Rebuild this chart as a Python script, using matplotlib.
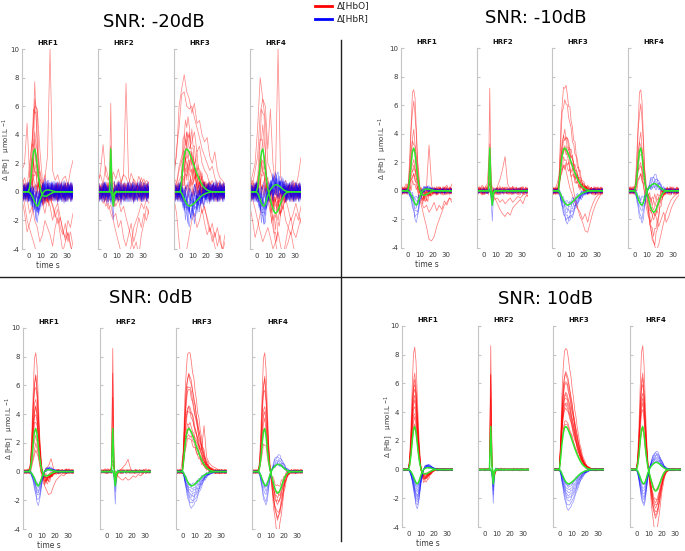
"""
Simulated HRF recovery at four SNR levels -- HbO / HbR traces per HRF type
"""

import numpy as np
import matplotlib
matplotlib.use("Agg")
import matplotlib.pyplot as plt
from matplotlib.lines import Line2D

plt.rcParams["axes.unicode_minus"] = False

W, H = 685, 551

# time axes (s)
T = np.arange(-5, 36)        # 1 s grid
T2 = np.arange(-5, 36, 2)    # 2 s grid for the drifting traces

HRF_NAMES = ["HRF1", "HRF2", "HRF3", "HRF4"]
SNR_TITLES = ["SNR: -20dB", "SNR: -10dB", "SNR: 0dB", "SNR: 10dB"]

HBO_HRF1 = [0, 0, 0, 0, 0, 0,
            0.3, 1.0, 2.0, 2.8, 3.0, 2.6, 1.8, 1.0, 0.4, 0.0,
            -0.2, -0.3, -0.3, -0.3, -0.25, -0.2, -0.15, -0.1, -0.06, -0.03,
            0, 0, 0, 0, 0, 0, 0, 0, 0, 0, 0, 0, 0, 0, 0]
HBR_HRF1 = [0, 0, 0, 0, 0, 0,
            -0.05, -0.15, -0.3, -0.5, -0.72, -0.92, -1.0, -0.88, -0.62, -0.35,
            -0.15, 0.0, 0.08, 0.12, 0.13, 0.13, 0.11, 0.09, 0.06, 0.04,
            0.02, 0, 0, 0, 0, 0, 0, 0, 0, 0, 0, 0, 0, 0, 0]
HBO_HRF2 = [0, 0, 0, 0, 0, 0, 0, 0, 0, 0,
            3.0, 0.2, -0.3, -0.15, -0.05,
            0, 0, 0, 0, 0, 0, 0, 0, 0, 0, 0, 0, 0, 0, 0, 0, 0, 0, 0, 0, 0, 0, 0, 0, 0, 0]
HBR_HRF2 = [0, 0, 0, 0, 0, 0, 0, 0, 0, 0, 0,
            -0.2, -1.0, -0.1, 0.05,
            0, 0, 0, 0, 0, 0, 0, 0, 0, 0, 0, 0, 0, 0, 0, 0, 0, 0, 0, 0, 0, 0, 0, 0, 0, 0]
HBO_HRF3 = [0, 0, 0, 0, 0, 0,
            0.8, 1.8, 2.5, 2.9, 3.0, 2.92, 2.75, 2.52, 2.28, 2.02,
            1.76, 1.5, 1.26, 1.04, 0.84, 0.66, 0.5, 0.37, 0.27, 0.19,
            0.13, 0.08, 0.05, 0.03, 0.01,
            0, 0, 0, 0, 0, 0, 0, 0, 0, 0]
HBR_HRF3 = [0, 0, 0, 0, 0, 0,
            -0.1, -0.3, -0.5, -0.7, -0.85, -0.95, -1.0, -0.98, -0.93, -0.86,
            -0.78, -0.69, -0.6, -0.5, -0.41, -0.33, -0.26, -0.2, -0.15, -0.11,
            -0.08, -0.05, -0.03, -0.02, -0.01,
            0, 0, 0, 0, 0, 0, 0, 0, 0, 0]
HBO_HRF4 = [0, 0, 0, 0, 0, 0,
            0.3, 1.0, 2.0, 2.8, 3.0, 2.5, 1.6, 0.8, 0.2, -0.2,
            -0.55, -0.9, -1.2, -1.4, -1.5, -1.45, -1.3, -1.05, -0.8, -0.55,
            -0.35, -0.2, -0.1, -0.05, -0.02,
            0, 0, 0, 0, 0, 0, 0, 0, 0, 0]
HBR_HRF4 = [0, 0, 0, 0, 0, 0,
            -0.1, -0.3, -0.55, -0.8, -0.95, -1.0, -0.85, -0.55, -0.25, 0.0,
            0.15, 0.28, 0.38, 0.45, 0.5, 0.5, 0.47, 0.4, 0.32, 0.24,
            0.17, 0.1, 0.06, 0.03, 0.01,
            0, 0, 0, 0, 0, 0, 0, 0, 0, 0]

HBO_TRUE = [np.array(v) for v in (HBO_HRF1, HBO_HRF2, HBO_HRF3, HBO_HRF4)]
HBR_TRUE = [np.array(v) for v in (HBR_HRF1, HBR_HRF2, HBR_HRF3, HBR_HRF4)]

# estimated peak HbO (red) and trough HbR (blue, magnitude) of each trace, per HRF
RED_PEAKS_M20 = [[6.0, 4.0, 3.0, 2.0, 1.0, 0.5, 0.0, 1.5, -0.5, 2.5],
                 [6.7, 3.0, 2.0, 1.0, 0.5, 0.0, -0.5, 1.5],
                 [5.0, 4.0, 3.0, 2.0, 1.0, 0.5, 0.0, 2.5, 1.5],
                 [6.0, 4.5, 3.0, 2.0, 1.0, 0.5, 0.0, 1.5]]
BLUE_DIPS_M20 = [[1.7, 1.4, 1.2, 1.0, 0.8, 0.6, 0.4, 0.2, 1.0, 0.5],
                 [1.5, 1.0, 0.8, 0.5, 0.3, 0.0, 0.6, 0.2],
                 [2.0, 1.6, 1.3, 1.0, 0.8, 0.5, 0.2, 0.0, 1.1],
                 [2.0, 1.6, 1.2, 1.0, 0.8, 0.5, 0.2, 0.0, 1.4]]
RED_PEAKS_M10 = [[7.3, 6.2, 4.0, 3.5, 2.8, 1.6, 1.0, 0.5],
                 [7.4, 3.2, 2.0, 1.0, 0.5, 0.0],
                 [7.4, 6.3, 4.0, 3.8, 3.5, 3.2, 2.8, 2.2, 1.8],
                 [7.3, 6.0, 3.8, 3.4, 2.5, 1.8, 1.0]]
BLUE_DIPS_M10 = [[2.1, 1.8, 1.5, 1.2, 0.9, 0.7, 0.5],
                 [2.0, 1.2, 0.8, 0.5, 0.3],
                 [2.2, 2.0, 1.8, 1.5, 1.2, 1.0, 0.8],
                 [2.2, 1.8, 1.4, 1.0, 0.8, 0.5]]
RED_PEAKS_P0 = [[8.4, 6.7, 6.5, 6.0, 5.0, 4.6, 4.4, 4.0, 3.6, 2.4],
                [8.7, 6.8, 5.0, 3.0, 2.8],
                [8.4, 6.8, 6.6, 6.0, 5.7, 4.6, 4.4, 4.2, 3.4, 3.0, 2.6, 2.3],
                [8.4, 6.6, 6.3, 5.8, 4.5, 4.2, 3.6, 3.0, 2.0]]
BLUE_DIPS_P0 = [[2.3, 2.0, 1.7, 1.5, 1.3, 1.1, 1.0, 0.9],
                [2.2, 1.5, 1.0, 0.8],
                [2.5, 2.2, 2.0, 1.8, 1.6, 1.4, 1.2, 1.0, 0.9],
                [2.3, 2.0, 1.6, 1.3, 1.1, 1.0, 0.9]]
RED_PEAKS_P10 = [[8.6, 6.7, 6.2, 6.0, 5.6, 5.2, 4.8, 4.4, 4.0, 3.6, 3.2, 2.9],
                 [8.7, 6.6, 6.5, 5.0, 3.2, 3.0],
                 [8.5, 6.8, 6.6, 6.2, 6.0, 5.4, 5.2, 5.0, 4.7, 4.5, 4.3, 3.4, 3.2],
                 [8.7, 6.7, 6.3, 6.0, 5.3, 5.0, 4.6, 4.2, 3.0, 2.8]]
BLUE_DIPS_P10 = [[2.7, 2.5, 2.3, 2.1, 1.9, 1.8, 1.6, 1.4, 1.2, 1.1],
                 [2.3, 1.8, 1.5, 1.2, 1.0],
                 [2.8, 2.5, 2.2, 2.0, 1.8, 1.6, 1.4, 1.2, 1.1, 1.0],
                 [2.5, 2.3, 2.1, 1.9, 1.7, 1.5, 1.3, 1.1, 1.0]]

# per-sample jitter patterns seen on the traces (unit amplitude)
WIGGLES = np.array([
    [0.2, -0.4, 0.5, -0.1, 0.3, -0.6, 0.1, 0.7, -0.3, 0.2,
     -0.5, 0.4, 0.0, -0.7, 0.6, -0.2, 0.3, -0.4, 0.8, -0.1,
     0.2, -0.6, 0.5, -0.3, 0.1, 0.4, -0.5, 0.2, -0.2, 0.6,
     -0.4, 0.1, 0.3, -0.7, 0.5, -0.1, 0.2, -0.3, 0.6, -0.5, 0.1],
    [-0.3, 0.6, -0.2, 0.4, -0.5, 0.1, 0.3, -0.4, 0.7, -0.6,
     0.2, -0.1, 0.5, -0.3, 0.0, 0.4, -0.6, 0.3, -0.2, 0.5,
     -0.4, 0.6, -0.1, 0.2, -0.5, 0.3, 0.1, -0.4, 0.7, -0.2,
     0.0, -0.5, 0.4, 0.2, -0.3, 0.6, -0.6, 0.1, -0.2, 0.4, -0.3],
    [0.5, 0.1, -0.3, 0.6, -0.4, 0.2, -0.6, 0.0, 0.4, -0.2,
     0.7, -0.5, 0.1, 0.3, -0.4, 0.5, -0.1, -0.6, 0.4, 0.2,
     -0.3, 0.1, 0.6, -0.5, 0.3, -0.2, 0.4, -0.6, 0.1, 0.2,
     -0.1, 0.5, -0.4, 0.0, 0.6, -0.3, 0.3, -0.5, 0.2, 0.1, 0.4],
    [-0.1, -0.5, 0.3, 0.2, -0.2, 0.6, -0.4, 0.3, -0.1, 0.5,
     -0.6, 0.2, 0.4, -0.3, 0.1, -0.5, 0.6, 0.0, -0.4, 0.3,
     0.5, -0.2, -0.4, 0.6, -0.1, 0.2, -0.3, 0.5, -0.6, 0.1,
     0.4, -0.2, 0.0, 0.5, -0.6, 0.3, -0.1, 0.4, -0.3, 0.6, -0.2],
    [0.4, -0.2, 0.0, -0.5, 0.6, -0.3, 0.5, -0.1, -0.4, 0.3,
     0.1, 0.6, -0.5, 0.2, -0.3, 0.0, 0.4, 0.5, -0.6, 0.1,
     -0.2, 0.3, 0.2, -0.4, 0.6, -0.6, 0.0, 0.3, 0.4, -0.5,
     0.2, 0.6, -0.3, -0.2, 0.1, 0.4, -0.5, 0.0, 0.5, -0.4, 0.3],
    [-0.6, 0.3, 0.4, -0.2, 0.1, 0.5, -0.5, 0.2, 0.6, -0.3,
     -0.1, 0.0, -0.4, 0.5, 0.3, -0.6, 0.2, 0.1, 0.4, -0.5,
     0.6, -0.3, 0.0, 0.1, -0.2, -0.4, 0.6, -0.1, 0.3, -0.5,
     0.5, 0.2, -0.6, 0.4, -0.2, 0.0, 0.6, -0.4, 0.3, -0.1, -0.5],
])

NOISE_RED = [1.0, 0.45, 0.25, 0.14]
NOISE_BLUE = [1.15, 0.3, 0.16, 0.1]

# drifting / artefact HbO traces, on the 2 s grid
DRIFT_M20 = [
    [[0.3, -0.8, -2.0, -2.6, -3.2, -3.8, -4.5, -5, -5, -5, -5, -5, -5, -5, -5, -5, -5, -5, -5, -5, -5],
     [1.0, 0.5, -0.5, -1.5, -1.0, -2.0, -2.5, -3.5, -3.0, -2.0, -2.5, -3.0, -3.8, -2.5, -1.8, -3.0, -4.2, -3.5, -2.8, -3.6, -4.5],
     [0.2, 0.5, 0.0, 0.8, 1.2, 0.6, 0.3, 0.9, 0.5, 1.0, 2.5, 10.0, 1.5, 0.8, 1.2, 0.5, 0.9, 1.1, 0.4, 1.5, 2.2],
     [1.5, 2.0, 4.8, 1.0, 2.5, 7.7, 3.0, 1.5, 0.5, 1.2, 0.0, -0.5, -1.0, -1.8, -1.2, -2.5, -3.0, -2.2, -3.5, -2.8, -3.8],
     [-0.5, -1.5, -2.8, -2.2, -1.5, 6.5, 5.5, 0.5, -0.8, -1.5, -0.5, -1.0, -2.0, -1.2, -0.8, -1.8, -2.8, -3.2, -2.0, -2.5, -1.5],
     [0.5, 1.0, 0.3, 2.0, 3.5, 6.0, 5.8, 3.0, 0.8, 0.2, -0.5, -0.3, -0.9, -1.5, -2.2, -1.8, -2.6, -3.4, -2.9, -3.8, -4.2]],
    [[0.5, 1.5, 3.3, 1.2, 0.8, 1.5, 0.6, 0.3, 0.8, 0.5, 1.2, 7.6, 1.0, 0.4, 0.9, 0.6, 0.3, 1.0, 0.5, 0.8, 0.6],
     [0.2, -0.5, -0.3, -1.0, -0.8, -1.5, -2.0, -2.8, -3.5, -4.2, -5, -5, -4.5, -3.8, -2.5, -2.0, -1.5, -0.8, -1.2, -0.5, -0.8],
     [-0.3, 0.2, -0.8, -0.5, -1.2, -0.9, -1.8, -1.5, -2.5, -2.0, -3.2, -3.8, -3.0, -2.2, -3.5, -2.8, -1.8, -2.5, -1.5, -2.0, -1.2],
     [0.6, 0.0, 0.4, -0.3, 0.2, -0.6, -0.4, -1.0, -0.5, -1.4, -1.0, -1.8, -2.5, -3.2, -4.0, -3.5, -4.5, -3.0, -2.2, -1.0, -1.6],
     [0.8, 1.2, 0.5, 1.8, 1.0, 0.6, 1.4, 0.9, 1.6, 0.7, 1.2, 1.0, 0.5, 1.3, 0.8, 0.4, 1.1, 0.6, 0.9, 0.3, 0.7]],
    [[1.5, 2.5, 6.0, 7.2, 8.2, 7.0, 6.5, 5.5, 6.2, 4.8, 5.0, 4.0, 3.5, 3.8, 2.5, 2.0, 2.8, 1.5, 1.0, 0.8, 0.5],
     [0.8, 3.0, 4.5, 6.8, 7.0, 6.0, 5.8, 6.0, 5.2, 4.5, 3.8, 3.0, 2.5, 2.0, 1.5, 1.8, 1.0, 0.5, 0.8, 0.2, 0.4],
     [-0.5, -1.5, -3.5, -5, -5, -4.0, -3.0, -2.0, -1.5, -2.5, -2.0, -1.2, -2.2, -3.0, -2.5, -3.5, -2.8, -3.8, -3.0, -4.2, -3.5],
     [0.3, 0.5, 1.5, 2.2, 2.5, 2.0, 1.5, 2.8, 1.8, 1.0, 0.2, -0.5, -1.2, -1.8, -2.5, -3.0, -3.8, -4.5, -5, -5, -5],
     [0.2, 0.0, 0.8, 1.2, 1.0, 3.5, 4.0, 2.5, 1.0, 0.5, -0.5, -1.5, -1.0, -2.0, -2.8, -2.2, -3.2, -2.5, -3.5, -4.0, -3.0],
     [1.0, 0.6, 1.8, 2.5, 3.0, 4.2, 3.0, 3.5, 4.2, 2.8, 3.2, 2.0, 1.5, 1.2, 0.5, 0.8, 0.2, -0.3, 0.0, -0.5, -0.2]],
    [[0.5, 1.2, 2.0, 4.5, 8.0, 6.5, 5.0, 2.0, 1.5, 0.8, 1.2, 10.0, 1.0, 0.5, 0.8, 0.2, 0.5, 0.8, 0.3, 1.2, 2.4],
     [0.2, -0.5, -1.2, -2.0, -2.8, -3.5, -3.0, -2.5, -3.2, -4.0, -3.5, -2.8, -3.8, -4.5, -3.5, -2.5, -3.0, -2.2, -1.5, -2.0, -1.0],
     [-1.0, -2.0, -3.2, -2.5, -1.5, 0.5, 1.0, -0.5, -1.5, -2.5, -3.5, -4.5, -5, -5, -4.0, -3.5, -2.8, -3.8, -4.5, -5, -5],
     [1.0, 0.5, 1.5, 2.5, 5.5, 6.5, 6.0, 3.0, 5.8, 2.0, 0.5, -0.8, -1.5, -1.0, -2.0, -2.5, -1.8, -2.8, -3.2, -2.5, -1.8],
     [0.3, 0.8, 0.2, 1.0, 1.8, 2.2, 1.5, 0.8, 0.2, -0.5, -1.0, -0.6, -1.5, -1.0, -0.5, -1.2, -2.0, -1.5, -0.8, -1.6, -2.2]],
]
DRIFT_M10 = [
    [[0.2, -0.1, 0.3, 0.5, 1.5, 2.2, 1.0, -0.5, -1.0, -1.8, -2.5, -3.4, -3.5, -3.2, -2.5, -2.0, -1.5, -1.0, -0.8, -0.5, -0.6],
     [0.4, 0.1, 0.5, 0.2, 1.0, 1.8, 1.2, 0.3, -0.2, 0.1, 0.3, 3.2, 0.4, -0.2, 0.1, 0.3, -0.1, 0.2, 0.4, 0.0, 0.5],
     [-0.3, 0.2, -0.1, 0.3, 0.8, 1.2, 0.5, -0.5, -0.8, -1.2, -1.0, -1.5, -1.2, -0.8, -1.4, -1.0, -1.3, -0.7, -1.0, -0.5, -0.8]],
    [[0.1, 0.3, -0.2, 0.2, 0.5, 3.0, -0.3, -0.5, -0.9, -1.3, -1.6, -1.8, -1.5, -1.7, -1.2, -1.0, -0.8, -0.6, -0.9, -0.4, -0.3],
     [0.3, 0.0, 0.4, 0.1, 0.2, 1.0, 0.2, 0.0, 0.3, 0.8, 1.5, 2.4, 0.5, 0.1, 0.3, 0.0, 0.2, 0.1, 0.3, 0.0, 0.2],
     [-0.2, 0.1, -0.3, 0.0, -0.2, 0.5, -0.4, -0.6, -0.5, -0.8, -0.6, -0.9, -0.7, -0.5, -0.8, -0.6, -0.4, -0.5, -0.3, -0.2, -0.4]],
    [[0.3, 0.0, 0.5, 1.2, 2.5, 3.0, 2.5, 1.5, 0.5, -0.5, -1.2, -1.8, -2.2, -2.8, -2.9, -2.2, -1.5, -1.0, -0.6, -0.3, -0.1],
     [0.1, -0.2, 0.2, 0.8, 1.5, 1.8, 1.0, 0.2, -0.3, -0.8, -1.2, -1.5, -2.0, -1.6, -2.2, -1.4, -0.9, -0.5, -0.3, -0.2, 0.0]],
    [[0.0, 0.3, -0.2, 0.5, 1.5, 2.0, 0.5, -1.0, -1.8, -2.2, -1.5, -1.8, -2.5, -2.0, -1.5, -2.2, -1.8, -1.2, -0.8, -0.5, -0.3],
     [0.2, -0.1, 0.3, 0.2, 0.8, 1.2, 0.4, -0.5, -1.5, -2.8, -3.5, -4.2, -3.8, -3.0, -2.2, -1.5, -1.0, -0.6, -0.4, -0.2, -0.1]],
]
DRIFT_P0 = [
    [[0.0, 0.1, -0.1, 0.2, 1.0, 2.0, 1.2, 0.0, -0.8, -1.2, -1.6, -1.5, -1.0, -0.6, -0.4, -0.2, -0.3, -0.1, 0.2, 0.0, 0.1],
     [0.1, -0.1, 0.2, 0.0, 0.8, 1.5, 1.0, 0.0, -0.3, 0.2, 0.4, 0.9, 0.2, -0.2, 0.0, 0.1, -0.1, 0.2, 0.0, 0.1, 0.0]],
    [[0.0, 0.1, -0.1, 0.2, 0.0, 0.8, -0.2, -0.3, -0.5, -0.6, -0.4, -0.6, -0.5, -0.3, -0.4, -0.2, -0.3, -0.1, 0.0, -0.1, 0.0],
     [0.1, 0.0, 0.2, -0.1, 0.1, 0.5, 0.0, -0.1, 0.1, 0.3, 0.5, 0.85, 0.2, 0.0, 0.1, -0.1, 0.1, 0.0, 0.2, 0.0, 0.1]],
    [[0.1, 0.0, 0.2, 1.5, 2.5, 3.0, 2.8, 2.5, 2.2, 1.8, 1.5, 3.2, 1.0, 0.6, 0.4, 0.3, 0.2, 0.0, 0.1, -0.1, 0.0]],
    [],
]
DRIFT_P10 = [[], [], [], []]

# layout, in pixels of the 685x551 picture
QUAD_LEFTS = [[22, 98, 174, 250], [401, 477, 552, 628], [23, 100, 176, 252], [402, 478, 553, 630]]
QUAD_TOPS = [49, 48, 328, 326]
QUAD_BOTS = [249, 248, 529, 527]
YLABEL_X = [7, 383, 10, 389]
TITLE_XY = [(154, 22), (536, 18), (151, 298), (545, 299)]
AX_W = 51

RED = (1.0, 0.0, 0.0)
BLUE = (0.0, 0.0, 1.0)
GREEN = "#2ee62e"
SPINE = "#c4c4c4"
TXT = "#3a3a3a"


def fx(px):
    return px / W


def fy(py):
    return 1 - py / H


def draw_panel(ax, k, red_peaks, blue_dips, drifts, nr, nb, red_alpha):
    for i, p in enumerate(red_peaks):
        sign = 1 if (i // 6) % 2 == 0 else -1
        y = HBO_TRUE[k] * p / 3.0 + nr * sign * WIGGLES[i % 6]
        ax.plot(T, y, color=RED, lw=0.55, alpha=red_alpha)
    for d in drifts:
        ax.plot(T2, d, color=RED, lw=0.55, alpha=red_alpha)
    for i, d in enumerate(blue_dips):
        sign = -1 if (i // 6) % 2 == 0 else 1
        y = HBR_TRUE[k] * d + nb * sign * WIGGLES[(i + 3) % 6]
        ax.plot(T, y, color=BLUE, lw=0.5, alpha=0.42)
    ax.plot(T, HBO_TRUE[k], color=GREEN, lw=1.1)
    ax.plot(T, HBR_TRUE[k], color=GREEN, lw=1.1)

    ax.set_xlim(-5, 35)
    ax.set_ylim(-4, 10)
    ax.set_facecolor("none")
    for s in ("top", "right", "bottom"):
        ax.spines[s].set_visible(False)
    ax.spines["left"].set_color(SPINE)
    ax.spines["left"].set_linewidth(0.8)
    ax.set_xticks([0, 10, 20, 30])
    ax.set_yticks(range(-4, 11, 2))
    ax.tick_params(axis="x", length=0, labelsize=5, labelcolor=TXT, pad=3)
    ax.tick_params(axis="y", direction="in", length=2, color=SPINE,
                   labelsize=5, labelcolor=TXT, pad=2, labelleft=(k == 0))
    ax.text(0.5, 1.03, HRF_NAMES[k], transform=ax.transAxes, ha="center",
            va="center", fontsize=5, fontweight="bold", color="#111111")


fig = plt.figure(figsize=(W / 100, H / 100), dpi=100)

PEAKS = [RED_PEAKS_M20, RED_PEAKS_M10, RED_PEAKS_P0, RED_PEAKS_P10]
DIPS = [BLUE_DIPS_M20, BLUE_DIPS_M10, BLUE_DIPS_P0, BLUE_DIPS_P10]
DRIFTS = [DRIFT_M20, DRIFT_M10, DRIFT_P0, DRIFT_P10]
RED_ALPHA = [0.45, 0.5, 0.55, 0.55]

for q in range(4):
    top, bot = QUAD_TOPS[q], QUAD_BOTS[q]
    for k in range(4):
        left = QUAD_LEFTS[q][k]
        ax = fig.add_axes([fx(left), fy(bot), AX_W / W, (bot - top) / H])
        draw_panel(ax, k, PEAKS[q][k], DIPS[q][k], DRIFTS[q][k],
                   NOISE_RED[q], NOISE_BLUE[q], RED_ALPHA[q])
        if k == 0:
            ax.set_xlabel("time s", fontsize=5.5, color=TXT, labelpad=1)
            ax.set_ylabel("Δ [Hb]   μmol.L $^{-1}$", fontsize=5, color=TXT, va="center")
            ax.yaxis.set_label_coords((YLABEL_X[q] - left) / AX_W, 0.5)
    tx, ty = TITLE_XY[q]
    fig.text(fx(tx), fy(ty), SNR_TITLES[q], ha="center", va="center", fontsize=13)

# quadrant dividers
fig.add_artist(Line2D([fx(0), fx(W)], [fy(277), fy(277)], color="#202020", lw=1.0))
fig.add_artist(Line2D([fx(341), fx(341)], [fy(40), fy(541)], color="#202020", lw=1.0))

# legend
fig.add_artist(Line2D([fx(315), fx(332)], [fy(6), fy(6)], color=RED, lw=2))
fig.add_artist(Line2D([fx(315), fx(332)], [fy(19), fy(19)], color=BLUE, lw=2))
fig.text(fx(337), fy(6), "Δ[HbO]", ha="left", va="center", fontsize=6.5, color="#222222")
fig.text(fx(337), fy(19), "Δ[HbR]", ha="left", va="center", fontsize=6.5, color="#222222")

fig.savefig("out.png", dpi=100)
